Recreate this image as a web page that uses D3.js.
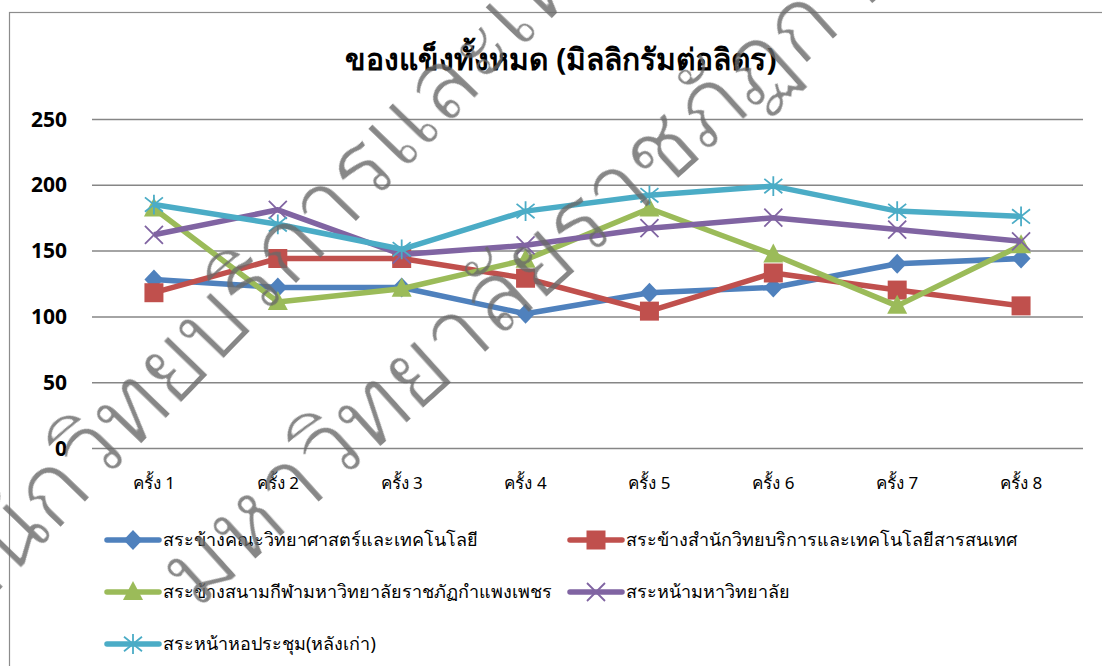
<!DOCTYPE html>
<meta charset="utf-8">
<style>
body { margin: 0; background: #fff; }
text { font-family: Tahoma, "Noto Sans", "DejaVu Sans", sans-serif; }
.grid line { stroke: #868686; stroke-width: 1.5; }
.grid path { display: none; }
</style>
<body>
<script src="https://d3js.org/d3.v7.min.js"></script>
<script>

var categories = ["ครั้ง 1", "ครั้ง 2", "ครั้ง 3", "ครั้ง 4", "ครั้ง 5", "ครั้ง 6", "ครั้ง 7", "ครั้ง 8"];
var yTicks = [0, 50, 100, 150, 200, 250];

var seriesNames = [
  "สระข้างคณะวิทยาศาสตร์และเทคโนโลยี",
  "สระข้างสำนักวิทยบริการและเทคโนโลยีสารสนเทศ",
  "สระข้างสนามกีฬามหาวิทยาลัยราชภัฏกำแพงเพชร",
  "สระหน้ามหาวิทยาลัย",
  "สระหน้าหอประชุม(หลังเก่า)"
];
var sciFaculty = [128, 122, 122, 102, 118, 122, 140, 144];
var library    = [118, 144, 144, 129, 104, 133, 120, 108];
var stadium    = [182, 111, 121, 143, 182, 147, 108, 154];
var frontUni   = [162, 181, 147, 154, 167, 175, 166, 157];
var oldHall    = [185, 170, 151, 180, 192, 199, 180, 176];

var colors = ["#4F81BD", "#C0504D", "#9BBB59", "#8064A2", "#4BACC6"];
var title = "ของแข็งทั้งหมด (มิลลิกรัมต่อลิตร)";
var watermark = ["สำนักวิทยบริการและเทคโนโลยีสารสนเทศ", "มหาวิทยาลัยราชภัฏกำแพงเพชร"];

var width = 1102, height = 666;
var plot = {left: 92, right: 1083, top: 119, bottom: 448};

// excel-like marker shapes, r = half width
var diamondSym = { draw: function(ctx, r) {
  ctx.moveTo(0, -r); ctx.lineTo(r * 0.95, 0); ctx.lineTo(0, r); ctx.lineTo(-r * 0.95, 0); ctx.closePath();
}};
var squareSym = { draw: function(ctx, r) {
  ctx.rect(-r, -r, 2 * r, 2 * r);
}};
var triangleSym = { draw: function(ctx, r) {
  ctx.moveTo(0, -r * 1.1); ctx.lineTo(r, r * 0.8); ctx.lineTo(-r, r * 0.8); ctx.closePath();
}};
var timesSym = { draw: function(ctx, r) {
  ctx.moveTo(-r, -r); ctx.lineTo(r, r);
  ctx.moveTo(r, -r); ctx.lineTo(-r, r);
}};
var starSym = { draw: function(ctx, r) {
  ctx.moveTo(-r, -r * 0.8); ctx.lineTo(r, r * 0.8);
  ctx.moveTo(r, -r * 0.8); ctx.lineTo(-r, r * 0.8);
  ctx.moveTo(0, -r * 1.1); ctx.lineTo(0, r * 1.1);
}};

var series = [
  {name: seriesNames[0], values: sciFaculty, color: colors[0], sym: diamondSym,  r: 10, filled: true},
  {name: seriesNames[1], values: library,    color: colors[1], sym: squareSym,   r: 9.5, filled: true},
  {name: seriesNames[2], values: stadium,    color: colors[2], sym: triangleSym, r: 10, filled: true},
  {name: seriesNames[3], values: frontUni,   color: colors[3], sym: timesSym,    r: 9, filled: false},
  {name: seriesNames[4], values: oldHall,    color: colors[4], sym: starSym,     r: 9, filled: false}
];

var x = d3.scalePoint()
    .domain(categories)
    .range([plot.left, plot.right])
    .padding(0.5);

var y = d3.scaleLinear()
    .domain([0, 250])
    .range([plot.bottom, plot.top]);

var svg = d3.select("body").append("svg")
    .attr("width", width)
    .attr("height", height);

// thin down the watermark glyph strokes
var filt = svg.append("defs").append("filter")
    .attr("id", "thin")
    .attr("filterUnits", "userSpaceOnUse")
    .attr("x", -60).attr("y", -160).attr("width", 2400).attr("height", 260);
filt.append("feMorphology")
    .attr("operator", "erode")
    .attr("radius", 0.9);

svg.append("rect")
    .attr("width", width).attr("height", height)
    .attr("fill", "#fff");

// chart border
svg.append("rect")
    .attr("x", 9.5).attr("y", 12.5)
    .attr("width", 1200).attr("height", 800)
    .attr("fill", "none")
    .attr("stroke", "#8c8c8c")
    .attr("stroke-width", 1.2);

svg.append("text")
    .attr("x", 561).attr("y", 70)
    .attr("text-anchor", "middle")
    .style("font-size", "30px")
    .style("font-weight", "bold")
    .text(title);

// gridlines
svg.append("g")
    .attr("class", "grid")
    .attr("transform", "translate(" + plot.left + ",0)")
    .call(d3.axisLeft(y).tickValues(yTicks).tickSize(-(plot.right - plot.left)).tickFormat(""));

svg.append("g").selectAll("text")
    .data(yTicks)
  .enter().append("text")
    .attr("x", 67)
    .attr("y", function(d) { return y(d); })
    .attr("dy", "0.36em")
    .attr("text-anchor", "end")
    .style("font-size", "21px")
    .style("font-weight", "bold")
    .text(function(d) { return d; });

svg.append("g").selectAll("text")
    .data(categories)
  .enter().append("text")
    .attr("x", function(d) { return x(d); })
    .attr("y", 489)
    .attr("text-anchor", "middle")
    .style("font-size", "17px")
    .text(function(d) { return d; });

var line = d3.line()
    .x(function(d, i) { return x(categories[i]); })
    .y(function(d) { return y(d); });

var g = svg.selectAll(".series")
    .data(series)
  .enter().append("g")
    .attr("class", "series");

g.append("path")
    .attr("d", function(d) { return line(d.values); })
    .attr("fill", "none")
    .attr("stroke", function(d) { return d.color; })
    .attr("stroke-width", 5.5)
    .attr("stroke-linejoin", "round");

g.each(function(s) {
  d3.select(this).selectAll(".pt")
      .data(s.values)
    .enter().append("path")
      .attr("transform", function(d, i) { return "translate(" + x(categories[i]) + "," + y(d) + ")"; })
      .attr("d", d3.symbol().type(s.sym).size(s.r))
      .attr("fill", s.filled ? s.color : "none")
      .attr("stroke", s.color)
      .attr("stroke-width", s.filled ? 0 : 1.8);
});

// legend
var legendPos = [[105, 540], [568, 540], [105, 592], [568, 592], [105, 644]];
var leg = svg.selectAll(".legend")
    .data(series)
  .enter().append("g")
    .attr("transform", function(d, i) { return "translate(" + legendPos[i][0] + "," + legendPos[i][1] + ")"; });

leg.append("line")
    .attr("x1", 2).attr("x2", 54)
    .attr("stroke", function(d) { return d.color; })
    .attr("stroke-width", 5.5)
    .attr("stroke-linecap", "round");

leg.append("path")
    .attr("transform", "translate(28,0)")
    .attr("d", function(d) { return d3.symbol().type(d.sym).size(d.r)(); })
    .attr("fill", function(d) { return d.filled ? d.color : "none"; })
    .attr("stroke", function(d) { return d.color; })
    .attr("stroke-width", function(d) { return d.filled ? 0 : 1.8; });

leg.append("text")
    .attr("x", 58)
    .attr("y", 6)
    .style("font-size", "18px")
    .text(function(d) { return d.name; });

// watermark
var wm = svg.append("g")
    .attr("fill", "rgba(105,105,105,0.8)")
    .style("font-size", "98px")
    .style("letter-spacing", "-2px");

wm.append("text")
    .attr("filter", "url(#thin)")
    .attr("transform", "translate(-70,662) rotate(-46)")
    .text(watermark[0]);

wm.append("text")
    .attr("filter", "url(#thin)")
    .attr("transform", "translate(196,612) rotate(-42)")
    .text(watermark[1]);

</script>
</body>
